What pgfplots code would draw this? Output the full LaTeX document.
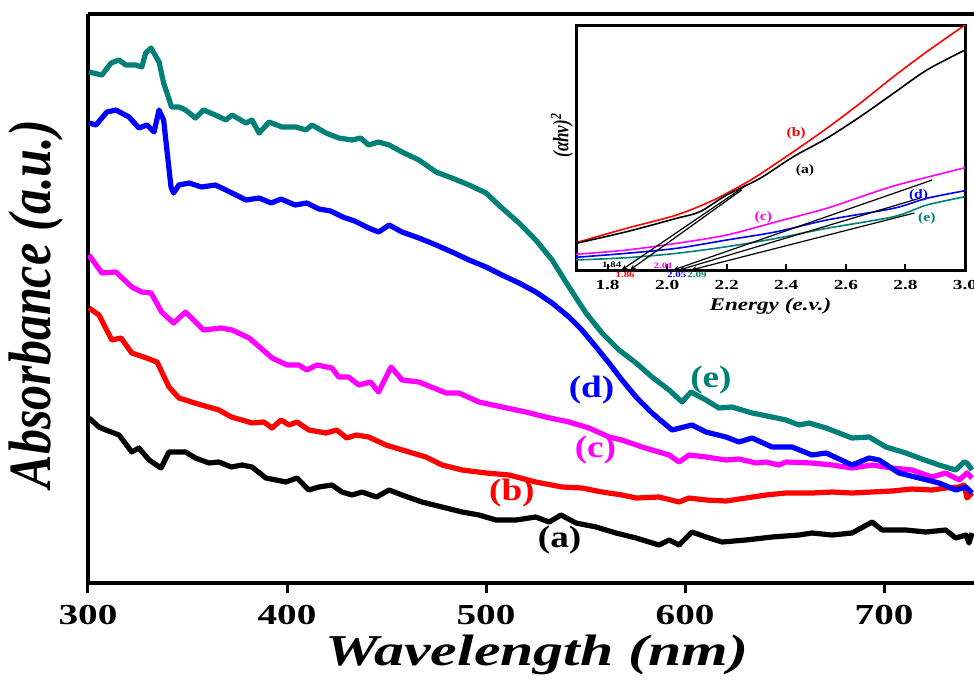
\documentclass[border=0pt]{standalone}
\usepackage{pgfplots}
\pgfplotsset{compat=1.18}
\usepackage{fontspec}
\setmainfont{Liberation Serif}
\usetikzlibrary{arrows.meta}
\definecolor{cteal}{RGB}{0,128,118}
\definecolor{cblue}{RGB}{0,0,255}
\definecolor{cmag}{RGB}{255,0,255}
\definecolor{cred}{RGB}{255,0,0}
\newcommand\hs[2]{\scalebox{#1}[1]{#2}}
\newcommand\vs[2]{\scalebox{1}[#1]{#2}}
\begin{document}
\begin{tikzpicture}
\begin{axis}[name=main, at={(0pt,0pt)}, anchor=south west, scale only axis,
  width=443pt, height=284.5pt,
  xmin=300, xmax=745.2, ymin=0, ymax=569,
  axis x line*=bottom, axis y line*=left,
  axis line style={line width=2pt},
  xtick={300,400,500,600,700},
  xticklabels={\hs{1.35}{300},\hs{1.35}{400},\hs{1.35}{500},\hs{1.35}{600},\hs{1.35}{700}},
  ytick=\empty,
  tick align=outside, major tick length=5pt,
  every tick/.style={black,line width=1.5pt},
  xticklabel style={font=\bfseries\fontsize{14.5}{16}\selectfont, yshift=-2.5pt},
  xlabel={\hs{1.36}{Wavelength (nm)}},
  xlabel style={font=\bfseries\itshape\fontsize{22}{24}\selectfont, at={(axis description cs:0.5,0)}, anchor=center, yshift=-36pt, xshift=3pt},
  ylabel={\vs{1.2}{Absorbance (a.u.)}},
  ylabel style={font=\bfseries\itshape\fontsize{25}{27}\selectfont, at={(axis description cs:0,0.49)}, anchor=center, yshift=26pt},
  clip mode=individual,
  every axis plot/.append style={line width=2.6pt, line join=round, no markers},
]
\draw[line width=2pt] (rel axis cs:0,1) -- (rel axis cs:1,1);
% (a)
\addplot[black] coordinates {(300.5,165) (305.5,156) (309,153) (315.6,148) (322,131) (325.6,135) (330.7,123) (336.7,115) (340.7,131) (349,131) (354,125) (360.8,120) (365.8,121) (372,116) (377.4,118) (382.4,116) (389.4,105) (394.5,103) (399.5,101) (405,105) (411,93) (416,96) (422.6,98) (427.6,91) (432.7,88) (437.7,91) (445,86) (451.3,93) (457.8,88) (467.8,81) (477.9,76) (488,71) (496.5,68) (505,63) (515,63) (525,66) (531.7,61) (537.7,68) (545.2,60) (555.3,56) (565.3,50) (575.4,45) (586.9,38) (592,43) (597,38) (603.5,51) (610.5,46) (618.6,41) (630.6,43) (643.7,46) (657.3,48) (663.8,50) (673.9,48) (683.9,50) (694,61) (699,53) (711,53) (721,51) (731,53) (736,45) (741.2,48) (742.7,40) (744.2,50)};
% (b)
\addplot[cred] coordinates {(300.5,275) (305.5,268) (312,243) (316.6,245) (322,230) (328,226) (334.7,221) (340.7,196) (345.7,185) (352,181) (357,178) (365.8,173) (372,166) (377.4,163) (382.4,160) (388.4,161) (392.5,155) (397,163) (401,158) (405,161) (411,153) (419.6,150) (425,153) (430,145) (434.7,148) (441,146) (449.7,138) (461.3,131) (469.8,126) (477.9,118) (488,113) (500,110) (511.6,108) (525,101) (538.2,96) (548.2,95) (558.3,91) (568.3,88) (575.4,85) (586.9,86) (597,81) (602,85) (610.5,83) (620.6,82) (630.6,85) (640.7,88) (650.7,90) (663.8,90) (673.9,91) (683.9,90) (694,91) (704,92) (714,94) (724,93) (731,95) (737.7,96) (740.2,98) (741.7,85) (744.2,90)};
% (c)
\addplot[cmag] coordinates {(300.5,328) (307,310) (314,311) (322,296) (327,291) (331.7,290) (337,271) (343,260) (349,271) (358,253) (366.8,255) (372.4,253) (381,245) (392.5,225) (400,218) (406,218) (410,213) (415,218) (422.6,215) (426,206) (431,206) (436,198) (442,201) (446,191) (452.3,216) (457.8,203) (466.3,201) (479.9,190) (486.4,190) (496.5,181) (508,176) (520,171) (530,166) (541.7,161) (551.8,155) (561.8,146) (568.3,143) (578.4,136) (586.9,131) (592,128) (597,121) (602,128) (610.5,126) (620.6,123) (627.1,124) (635.7,120) (640.7,121) (647.2,118) (650.7,121) (663.8,120) (673.9,118) (683.9,115) (694,118) (704,115) (714,113) (724,106) (731,110) (737.7,103) (741.7,110) (744.2,105)};
% (d)
\addplot[cblue] coordinates {(300.5,460) (304,458) (309.5,471) (314,473) (320.6,466) (325.6,455) (329.6,458) (333.2,451) (335.7,473) (338,463) (341.7,396) (343,390) (345.7,398) (350.8,400) (357,396) (364,398) (369.3,393) (379.4,383) (386,385) (392,380) (397,384) (404,378) (410,380) (416,374) (422,372) (428,366) (434,362) (441,355) (446,351) (451.3,358) (457.8,351) (466.3,345) (474.9,338) (482.9,331) (491.5,323) (500,316) (508,308) (516.6,300) (525,291) (533.2,280) (541.7,266) (548.2,253) (555.3,236) (561.8,220) (568.3,203) (575.4,186) (583.4,170) (593.5,153) (603.5,158) (610.5,151) (620.6,146) (627.1,141) (633.7,145) (643.7,136) (653.8,136) (663.8,128) (670.9,130) (683.9,118) (692.5,125) (697.5,123) (707.5,110) (717.6,105) (727.6,100) (736,93) (741.2,96) (744.2,90)};
% (e)
\addplot[cteal] coordinates {(300.5,511) (307,508) (311.6,520) (315.6,523) (319,518) (324,518) (327,516) (329,530) (331.7,535) (335.7,521) (338,500) (342,476) (345.7,476) (349,473) (354,465) (358,473) (364,468) (369.3,463) (372.4,468) (379.4,460) (382.4,463) (386,450) (391,461) (397.5,456) (404.5,456) (409.5,453) (412.6,458) (419.6,450) (426,445) (432.7,443) (437,445) (441,438) (446,441) (451.3,438) (457.8,431) (466.3,423) (474.9,411) (482.9,405) (491.5,398) (500,390) (508,375) (516.6,360) (525,343) (533.2,323) (541.7,296) (550.2,270) (558.3,250) (566.8,233) (575.4,220) (583.4,206) (592,193) (598.5,181) (603,191) (610.5,183) (617,175) (623.6,176) (633.7,170) (643.7,166) (650.7,163) (657.3,158) (662.3,160) (670.9,155) (677.4,150) (683.9,145) (692.5,146) (701,136) (711,130) (717.6,125) (727.6,118) (736,113) (740.2,121) (741.7,120) (744.2,113)};
\begin{scope}[font=\bfseries\fontsize{15.5}{17}\selectfont]
\node[black] at (axis cs:537,43) {\hs{1.2}{(a)}};
\node[cred] at (axis cs:513,90) {\hs{1.2}{(b)}};
\node[cmag] at (axis cs:555,133) {\hs{1.2}{(c)}};
\node[cblue] at (axis cs:553,193) {\hs{1.2}{(d)}};
\node[cteal] at (axis cs:613,203) {\hs{1.2}{(e)}};
\end{scope}
\end{axis}

\begin{axis}[name=inset, at={(244pt,156.5pt)}, anchor=south west, scale only axis,
  width=194.5pt, height=122.5pt,
  xmin=1.694, xmax=3.0, ymin=0, ymax=245,
  axis line style={line width=1.5pt},
  axis background/.style={fill=white},
  xtick={1.8,2.0,2.2,2.4,2.6,2.8,3.0},
  xticklabels={\hs{1.4}{1.8},\hs{1.4}{2.0},\hs{1.4}{2.2},\hs{1.4}{2.4},\hs{1.4}{2.6},\hs{1.4}{2.8},\hs{1.4}{3.0}},
  xtick pos=left, tick align=inside, major tick length=3pt,
  every tick/.style={black,line width=1pt},
  ytick=\empty,
  xticklabel style={font=\bfseries\fontsize{6.9}{8}\selectfont, yshift=-1.5pt},
  xlabel={\hs{1.3}{Energy (e.v.)}},
  xlabel style={font=\bfseries\itshape\fontsize{8.9}{10}\selectfont, at={(axis description cs:0.5,0)}, anchor=center, yshift=-18pt},
  ylabel={\vs{1.3}{(αhν)\textsuperscript{2}}},
  ylabel style={font=\bfseries\itshape\fontsize{8.5}{10}\selectfont, at={(axis description cs:0,0.55)}, anchor=center, yshift=7pt},
  clip mode=individual,
  every axis plot/.append style={line width=0.8pt, no markers},
]
\addplot[cred, smooth] coordinates {(1.694,27.3) (1.864,41.7) (2.032,55) (2.144,68.3) (2.2,76.7) (2.29,91.7) (2.424,118.3) (2.536,141.7) (2.648,166.7) (2.76,193.3) (2.872,218.3) (3.0,245)};
\addplot[black, smooth] coordinates {(1.694,26.7) (1.864,38.3) (2.032,51.7) (2.11,58.3) (2.2,75) (2.312,91.7) (2.424,113.3) (2.536,131.7) (2.648,153.3) (2.76,176.7) (2.872,200) (3.0,220)};
\addplot[cmag, smooth] coordinates {(1.694,15.7) (1.864,20) (2.032,26.7) (2.2,35) (2.368,48.3) (2.536,61.7) (2.648,73) (2.76,84) (2.872,92.7) (3.0,102.3)};
\addplot[cblue, smooth] coordinates {(1.694,12.7) (1.864,16.7) (2.032,21.7) (2.2,30) (2.368,38.3) (2.536,50) (2.76,61.7) (2.872,71.7) (3.0,79.3)};
\addplot[cteal, smooth] coordinates {(1.694,10) (1.864,12.3) (2.032,16.7) (2.2,23.3) (2.368,31.7) (2.536,41.7) (2.76,53.3) (2.872,65) (3.0,73.3)};
\addplot[black, line width=0.6pt, -{Stealth[length=3pt,width=2.5pt]}] coordinates {(2.267,85) (1.847,0)};
\addplot[black, line width=0.6pt, -{Stealth[length=3pt,width=2.5pt]}] coordinates {(2.25,80) (1.875,0)};
\addplot[black, line width=0.6pt, -{Stealth[length=3pt,width=2.5pt]}] coordinates {(2.89,90) (2.02,0)};
\addplot[black, line width=0.6pt, -{Stealth[length=3pt,width=2.5pt]}] coordinates {(2.85,72) (2.04,0)};
\addplot[black, line width=0.6pt, -{Stealth[length=3pt,width=2.5pt]}] coordinates {(2.83,57) (2.08,0)};
\begin{scope}[font=\bfseries\fontsize{6.5}{8}\selectfont]
\node[cred] at (axis cs:2.433,136.7) {\hs{1.2}{(b)}};
\node[black] at (axis cs:2.463,100) {\hs{1.2}{(a)}};
\node[cmag] at (axis cs:2.323,52.7) {\hs{1.2}{(c)}};
\node[cblue] at (axis cs:2.844,75) {\hs{1.2}{(d)}};
\node[cteal] at (axis cs:2.872,51.7) {\hs{1.2}{(e)}};
\end{scope}
\begin{scope}[font=\bfseries\fontsize{4.2}{5}\selectfont, inner sep=0.5pt]
\node[black] at (axis cs:1.814,5) {\hs{1.3}{1.84}};
\node[cred] at (axis cs:1.859,-5) {\hs{1.3}{1.86}};
\node[cmag] at (axis cs:1.987,4.3) {\hs{1.3}{2.01}};
\node[cblue] at (axis cs:2.032,-5) {\hs{1.3}{2.05}};
\node[cteal] at (axis cs:2.1,-5) {\hs{1.3}{2.09}};
\end{scope}
\end{axis}
\pgfresetboundingbox
\path[use as bounding box] (-44pt,-49.5pt) rectangle (443pt,291.5pt);
\end{tikzpicture}
\end{document}
